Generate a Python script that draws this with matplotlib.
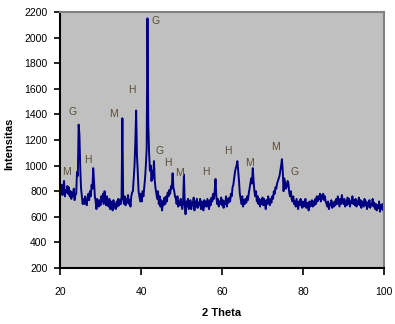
import numpy as np
import matplotlib
matplotlib.use("Agg")
import matplotlib.pyplot as plt

# 2-theta grid start / step (sampling of the diffractogram)
theta_start = 20.0
theta_step = 0.2

intensity = [
    820, 790, 850, 770, 830, 880, 760, 810, 790, 840,      # 20-22
    780, 830, 760, 800, 740, 790, 760, 820, 730, 770,      # 22-24
    780, 950, 920, 1320, 1240, 980, 820, 760, 700, 740,    # 24-26
    700, 760, 720, 690, 750, 780, 730, 800, 760, 850,      # 26-28
    820, 980, 880, 760, 720, 660, 740, 700, 680, 730,      # 28-30
    690, 760, 720, 780, 700, 800, 740, 690, 760, 710,      # 30-32
    680, 740, 660, 720, 690, 650, 730, 670, 700, 660,      # 32-34
    720, 680, 740, 690, 730, 700, 760, 1370, 740, 700,     # 34-36
    760, 690, 740, 710, 770, 700, 730, 680, 760, 790,      # 36-38
    800, 900, 1000, 1180, 1430, 1080, 950, 800, 760, 720,  # 38-40
    780, 720, 800, 760, 830, 900, 1000, 1130, 2150, 1320,  # 40-42
    1100, 960, 1000, 880, 960, 900, 1035, 880, 820, 780,   # 42-44
    740, 800, 700, 760, 680, 730, 650, 720, 690, 750,      # 44-46
    700, 760, 720, 790, 760, 810, 780, 840, 820, 940,      # 46-48
    830, 800, 760, 740, 700, 760, 680, 720, 690, 740,      # 48-50
    700, 660, 720, 930, 700, 620, 720, 680, 740, 660,      # 50-52
    700, 730, 660, 710, 690, 750, 650, 720, 680, 740,      # 52-54
    670, 710, 690, 740, 660, 720, 700, 650, 730, 680,      # 54-56
    720, 680, 740, 700, 660, 730, 690, 750, 720, 780,      # 56-58
    740, 800, 895, 760, 700, 740, 680, 720, 700, 750,      # 58-60
    690, 730, 670, 720, 700, 760, 680, 740, 710, 750,      # 60-62
    720, 780, 760, 830, 850, 900, 950, 980, 1000, 1035,    # 62-64
    960, 880, 780, 740, 700, 760, 680, 730, 700, 740,      # 64-66
    710, 760, 730, 780, 820, 860, 900, 860, 980, 880,      # 66-68
    800, 760, 800, 720, 760, 700, 740, 680, 730, 700,      # 68-70
    750, 690, 740, 710, 660, 730, 700, 760, 720, 690,      # 70-72
    740, 710, 760, 740, 800, 780, 830, 820, 860, 880,      # 72-74
    900, 920, 960, 1000, 1050, 960, 800, 900, 860, 820,    # 74-76
    840, 880, 860, 790, 760, 800, 740, 720, 760, 700,      # 76-78
    720, 680, 740, 700, 660, 720, 690, 740, 700, 670,      # 78-80
    720, 680, 700, 740, 670, 710, 690, 650, 720, 680,      # 80-82
    700, 730, 680, 720, 690, 740, 700, 760, 720, 760,      # 82-84
    740, 780, 720, 770, 740, 780, 730, 760, 720, 700,      # 84-86
    680, 720, 660, 700, 690, 730, 670, 710, 680, 720,      # 86-88
    690, 740, 700, 760, 720, 680, 740, 700, 770, 720,      # 88-90
    700, 740, 680, 720, 690, 750, 700, 740, 680, 720,      # 90-92
    710, 760, 700, 730, 690, 740, 680, 720, 700, 750,      # 92-94
    690, 730, 670, 720, 700, 680, 740, 690, 720, 660,      # 94-96
    710, 680, 730, 670, 700, 690, 740, 680, 710, 660,      # 96-98
    700, 650, 690, 670, 720, 640, 690, 660, 700, 650,      # 98-100
    680,
]

peak_labels = ["M", "G", "H", "M", "H", "G", "G", "H", "M", "H", "H", "M", "M", "G"]
label_theta = [21.5, 23.0, 26.9, 33.1, 37.8, 43.7, 44.7, 46.7, 49.6, 56.0, 61.5, 66.7, 73.3, 77.8]
label_int = [950, 1420, 1045, 1400, 1590, 2130, 1115, 1020, 940, 950, 1115, 1020, 1145, 950]

x_ticks = [20, 40, 60, 80, 100]
y_ticks = list(range(200, 2201, 200))

theta = theta_start + theta_step * np.arange(len(intensity))

plt.rcParams['font.family'] = ['Liberation Sans', 'DejaVu Sans']
fig = plt.figure(figsize=(3.95, 3.24), dpi=100)
ax = fig.add_axes([60/395, 1-268/324, 324/395, 256/324])
ax.set_facecolor('#c0c0c0')
ax.plot(theta, intensity, color='#000080', lw=1.4)

for lab, t, v in zip(peak_labels, label_theta, label_int):
    ax.text(t, v, lab, ha='center', va='center', fontsize=7.5, color='#5a4e36')

ax.set_xlim(20, 100)
ax.set_ylim(200, 2200)
ax.set_xticks(x_ticks)
ax.set_yticks(y_ticks)
ax.tick_params(axis='y', direction='out', length=4, width=1.2, labelsize=7.5, pad=5)
ax.tick_params(axis='x', direction='out', length=5, width=1.2, labelsize=7.5, pad=9)
for s in ['left', 'bottom']:
    ax.spines[s].set_color('black')
    ax.spines[s].set_linewidth(1.5)
for s in ['top', 'right']:
    ax.spines[s].set_color('#808080')
    ax.spines[s].set_linewidth(1.5)

fig.text(222/395, 1-313/324, '2 Theta', ha='center', va='center', fontsize=8, fontweight='bold')
fig.text(9/395, 1-144/324, 'Intensitas', ha='center', va='center', rotation=90, fontsize=8, fontweight='bold')

fig.savefig('out.png', dpi=100, facecolor='white')
